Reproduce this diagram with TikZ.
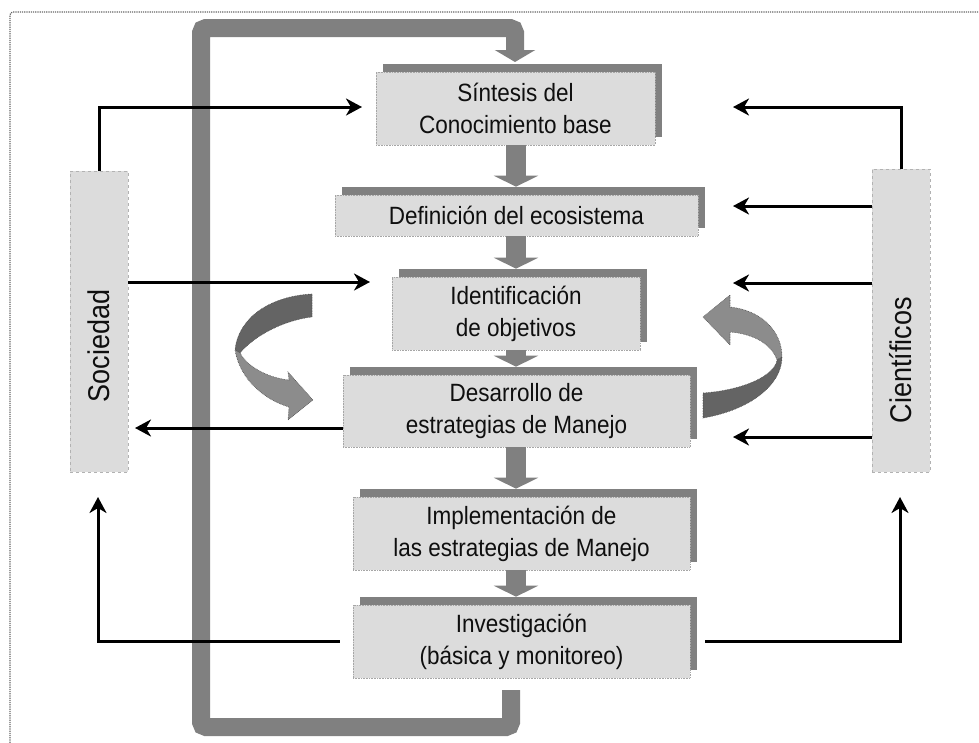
\documentclass[tikz,border=0pt]{standalone}
\usepackage{fontspec}
\usepackage{graphicx}
\setmainfont{Liberation Sans}[FakeStretch=0.9]
\usetikzlibrary{arrows.meta,shadows,calc}
\definecolor{boxfill}{RGB}{220,220,220}
\definecolor{shadegray}{RGB}{128,128,128}
\definecolor{darkband}{RGB}{100,100,100}
\definecolor{lightband}{RGB}{140,140,140}
\definecolor{txt}{RGB}{15,15,15}
\begin{document}
\begin{tikzpicture}[x=1pt,y=-1pt,
  cbox/.style={fill=boxfill, draw=gray!70, densely dotted, line width=0.6pt,
    align=center, text=txt, font=\fontsize{25}{32}\selectfont, inner sep=0pt,
    drop shadow={shadow xshift=7pt, shadow yshift=8pt, fill=shadegray, opacity=1}},
  sbox/.style={fill=boxfill, draw=gray!60, dashed, line width=0.6pt, inner sep=0pt},
  sidetext/.style={text=txt, font=\fontsize{30}{36}\selectfont, inner sep=0pt},
  arr/.style={draw=black, line width=3pt, -{Stealth[length=16pt,width=17pt,inset=5pt]}},
  loopband/.style={draw=shadegray, line width=18pt, rounded corners=5pt,
    -{Triangle[width=40pt,length=12pt]}},
  blk/.style={draw=shadegray, line width=20pt, -{Triangle[width=44pt,length=11pt]}},
  darkpart/.style={fill=darkband, draw=black!70, line width=0.6pt, densely dotted},
  lightpart/.style={fill=lightband, draw=black!70, line width=0.6pt, densely dotted},
  frame/.style={draw=black!60, densely dotted, line width=1.2pt, rounded corners=3pt}
]
\fill[white] (0,0) rectangle (979,742);
\useasboundingbox (0,0) rectangle (979,742);

% outer frame
\draw[frame] (10,745) -- (10,12) -- (985,12);

% big grey feedback loop
\coordinate (lpS) at (511,690);
\coordinate (lpE) at (515,62);
\draw[loopband] (lpS) -- (511,727) -- (201,727) -- (201,28) -- (515,28) -- (lpE);

% central boxes
\node[cbox, minimum width=279pt, minimum height=73pt] (S) at (515.5,108.5) {Síntesis del\\Conocimiento base};
\node[cbox, minimum width=363pt, minimum height=41pt] (D) at (516.5,215.5) {Definición del ecosistema};
\node[cbox, minimum width=248pt, minimum height=73pt] (I) at (516,313.5) {Identificación\\de objetivos};
\node[cbox, minimum width=347pt, minimum height=72pt] (De) at (516.5,411) {Desarrollo de\\estrategias de Manejo};
\node[cbox, minimum width=337pt, minimum height=73pt] (Im) at (521.5,533.5) {Implementación de\\las estrategias de Manejo};
\node[cbox, minimum width=337pt, minimum height=73pt] (Inv) at (521.5,641.5) {Investigación\\(básica y monitoreo)};

% down block arrows
\coordinate (ax) at (516,0);
\draw[blk] (S.south -| ax) -- ($(D.north -| ax)+(0,-8)$);
\draw[blk] (D.south -| ax) -- ($(I.north -| ax)+(0,-8)$);
\draw[blk] (I.south -| ax) -- ($(De.north -| ax)+(0,-8)$);
\draw[blk] (De.south -| ax) -- ($(Im.north -| ax)+(0,-8)$);
\draw[blk] (Im.south -| ax) -- ($(Inv.north -| ax)+(0,-8)$);

% side boxes
\node[sbox, minimum width=58pt, minimum height=301pt] (Soc) at (99,321.5) {};
\node[sidetext, rotate=90] (SocT) at (99,346) {Sociedad};
\node[sbox, minimum width=58pt, minimum height=303pt] (Cie) at (901,320.5) {};
\node[sidetext, rotate=90] (CieT) at (901,360) {Científicos};

% left connectors
\coordinate (a1) at (362,107);
\coordinate (a2) at (370,282);
\coordinate (a3) at (135,428);
\coordinate (a4) at (98,497);
\draw[arr] (Soc.north) |- (a1);
\draw[arr] (Soc.east |- a2) -- (a2);
\draw[arr] (De.west |- a3) -- (a3);
\draw[arr] ([xshift=-13pt]Inv.west) -| (a4);

% right connectors
\coordinate (a5) at (733,107);
\coordinate (a6) at (733,206);
\coordinate (a7) at (733,283);
\coordinate (a8) at (733,437);
\coordinate (a9) at (900,497);
\draw[arr] (Cie.north) |- (a5);
\draw[arr] (Cie.west |- a6) -- (a6);
\draw[arr] (Cie.west |- a7) -- (a7);
\draw[arr] (Cie.west |- a8) -- (a8);
\draw[arr] ([xshift=15pt]Inv.east) -| (a9);

% left curved arrow
\path[darkpart] (312,294) .. controls (270,296) and (238,318) .. (235,350)
  -- (240,353) .. controls (255,335) and (285,320) .. (312,317) -- cycle;
\path[lightpart] (235,350) .. controls (240,380) and (265,400) .. (289,407)
  -- (288,420) -- (313,400) -- (288,372) -- (289,380)
  .. controls (270,378) and (248,368) .. (240,353) -- cycle;

% right curved arrow
\path[lightpart] (703,317) -- (730,295) -- (730,307)
  .. controls (760,310) and (782,330) .. (782,357)
  -- (777,360) .. controls (772,345) and (755,334) .. (730,332)
  -- (730,345) -- cycle;
\path[darkpart] (782,357) .. controls (782,385) and (750,410) .. (703,418)
  -- (703,393) .. controls (745,390) and (775,375) .. (777,360) -- cycle;
\end{tikzpicture}
\end{document}
